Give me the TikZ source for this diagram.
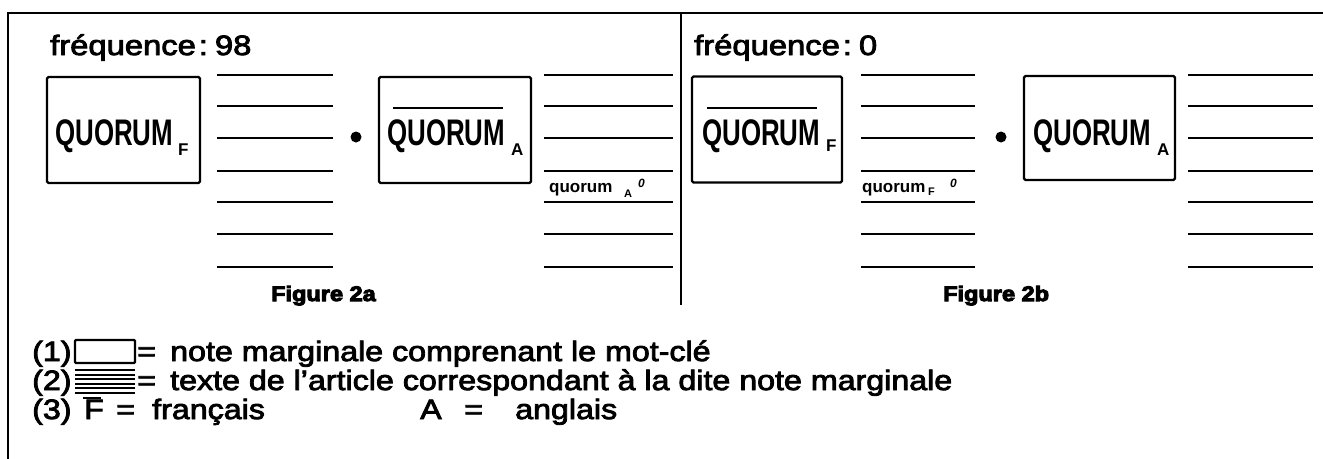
\documentclass[tikz,border=0pt]{standalone}
\usepackage{fontspec}
\setmainfont{Liberation Sans}
\font\frqf="Liberation Sans:extend=1.17;embolden=3" at 28pt
\font\qf="Liberation Sans/B:extend=0.7" at 37pt
\font\subf="Liberation Sans/B" at 17pt
\font\smallf="Liberation Sans/B" at 17pt
\font\smallsub="Liberation Sans/B" at 11pt
\font\smallsup="Liberation Sans/BI" at 12pt
\font\figf="Liberation Sans/B:extend=1.12;embolden=5" at 21pt
\font\legf="Liberation Sans:extend=1.15;embolden=3" at 28pt
\begin{document}
\begin{tikzpicture}[x=1pt,y=-1pt,
  frame/.style={line width=2.8pt},
  mbox/.style={draw, line width=2.4pt, rounded corners=1.5pt, inner sep=0pt},
  tline/.style={line width=2.8pt},
  lbl/.style={anchor=base west, inner sep=0pt},
  dotm/.style={circle, fill, inner sep=0pt, minimum size=11pt}
]
\useasboundingbox (0,0) rectangle (1323,458);
% frame and divider
\draw[frame] (8,460) -- (8,13) -- (1325,13);
\draw[line width=2.4pt] (681,13) -- (681,305);

% headings
\node[lbl, font=\frqf] (h1) at (50,55) {fréquence\hspace{3pt}:\hspace{7pt}98};
\node[lbl, font=\frqf] (h2) at (694,55) {fréquence\hspace{3pt}:\hspace{7pt}0};

% boxes
\node[mbox, minimum width=153pt, minimum height=106pt] (b1) at (123.5,130) {};
\node[mbox, minimum width=152pt, minimum height=106pt] (b2) at (455,130) {};
\node[mbox, minimum width=150pt, minimum height=106pt] (b3) at (767,129.5) {};
\node[mbox, minimum width=151pt, minimum height=104pt] (b4) at (1099.5,128) {};

% box texts
\node[lbl, font=\qf] (q1) at (55,145) {QUORUM};
\node[lbl, font=\subf] (s1) at (178,155) {F};
\node[lbl, font=\qf] (q2) at (387,145) {QUORUM};
\node[lbl, font=\subf] (s2) at (511,155) {A};
\node[lbl, font=\qf] (q3) at (702,145) {QUORUM};
\node[lbl, font=\subf] (s3) at (826,151) {F};
\node[lbl, font=\qf] (q4) at (1033,145) {QUORUM};
\node[lbl, font=\subf] (s4) at (1157,155) {A};
\draw[line width=2.4pt] (393,108) -- (503,108);
\draw[line width=2.4pt] (707,108) -- (817,108);

% text lines
\foreach \xa/\xb in {217/333, 544/673, 861/975, 1188/1313}{
  \foreach \yy in {75,106,138,171,202,234,267}{
    \draw[tline] (\xa,\yy) -- (\xb,\yy);
  }
}
% small labels
\node[lbl, font=\smallf] (ql1) at (549,192) {quorum};
\node[lbl, font=\smallsub] (qs1) at (624,197) {A};
\node[lbl, font=\smallsup] (qp1) at (638,187) {0};
\node[lbl, font=\smallf] (ql2) at (862,192) {quorum};
\node[lbl, font=\smallsub] (qs2) at (928,195) {F};
\node[lbl, font=\smallsup] (qp2) at (950,187) {0};

% dots
\node[dotm] (d1) at (356,137) {};
\node[dotm] (d2) at (1001,137) {};

% figure captions
\node[lbl, font=\figf] (f2a) at (271,301) {Figure 2a};
\node[lbl, font=\figf] (f2b) at (943,301) {Figure 2b};

% legend
\node[lbl, font=\legf] (l1) at (32,361) {(1)};
\draw[line width=2.4pt, rounded corners=1pt] (75,340) rectangle (135,363);
\node[lbl, font=\legf] (e1) at (137,361) {=};
\node[lbl, font=\legf] (t1) at (170,361) {note marginale comprenant le mot-clé};
\node[lbl, font=\legf] (l2) at (32,390) {(2)};
\foreach \yy in {370,374.6,379.2,383.8,388.4,393}{
  \draw[line width=2pt] (75,\yy) -- (135,\yy);
}
\node[lbl, font=\legf] (e2) at (137,390) {=};
\node[lbl, font=\legf] (t2) at (170,390) {texte de l’article correspondant à la dite note marginale};
\node[lbl, font=\legf] (l3) at (32,419) {(3)};
\node[lbl, font=\legf] (fF) at (84,419) {F};
\draw[line width=2pt] (83,398) -- (101,398);
\node[lbl, font=\legf] (e3) at (116,419) {=};
\node[lbl, font=\legf] (fr) at (152,419) {français};
\node[lbl, font=\legf] (aA) at (420,419) {A};
\node[lbl, font=\legf] (e4) at (464,419) {=};
\node[lbl, font=\legf] (an) at (515,419) {anglais};
\end{tikzpicture}
\end{document}
